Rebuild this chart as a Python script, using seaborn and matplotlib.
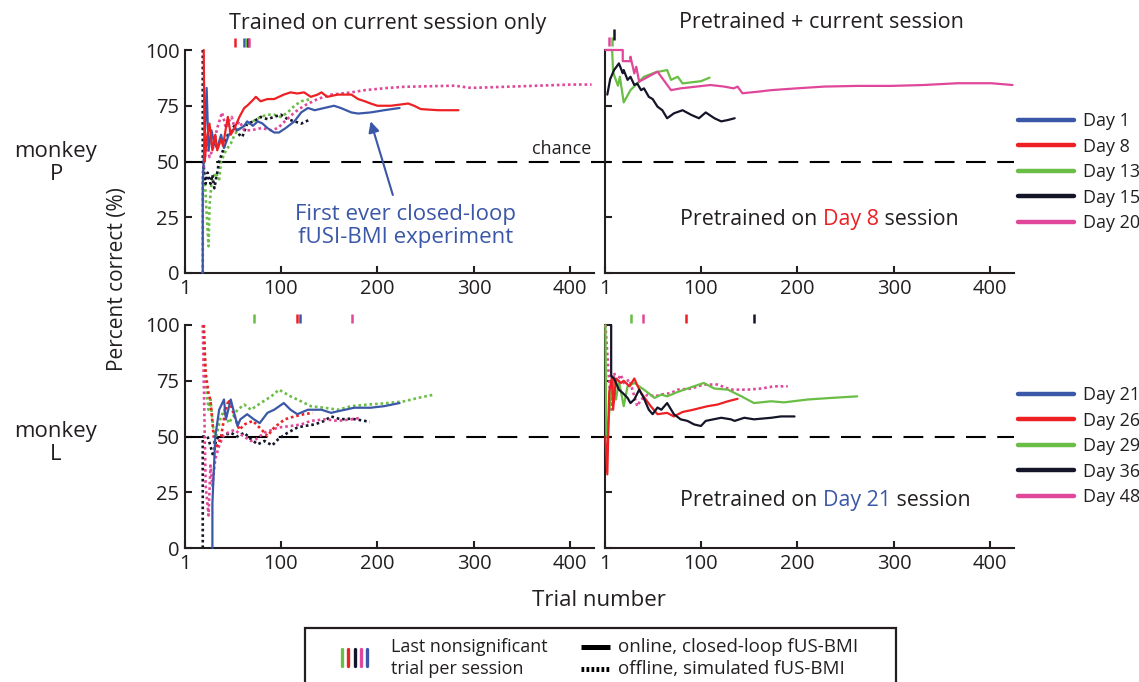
import matplotlib
matplotlib.use("Agg")
import matplotlib.pyplot as plt
import seaborn as sns
from matplotlib.lines import Line2D
from matplotlib.patches import Rectangle
from matplotlib.offsetbox import TextArea, HPacker, AnnotationBbox

sns.set_style("ticks")
plt.rcParams['font.family'] = ['Open Sans', 'DejaVu Sans']

# ---------------- colours ----------------
BLUE = '#3b57a7'
RED = '#ed2024'
GREEN = '#6abd45'
BLACK = '#15152a'
PINK = '#e0479a'
TXT = '#231f20'

XTICKS = [1, 100, 200, 300, 400]
YTICKS = [0, 25, 50, 75, 100]
CHANCE = 50

# ---------------- monkey P, trained on current session only ----------------
P_CUR_D1_X = [19, 19, 23, 25, 28, 31, 34, 38, 41, 46, 52, 55, 62, 65, 71, 76, 81, 86, 93, 98, 105, 114, 121, 128, 135, 145, 155, 162, 173, 180, 193, 207, 223]
P_CUR_D1_Y = [0, 40, 83, 55, 64, 58, 56, 62, 56, 62, 65, 64, 66, 68, 66, 68, 67, 65, 63, 63, 65, 68, 72, 74, 73, 74, 75, 74, 72, 71.5, 72, 73, 74]
P_CUR_D8_X = [20, 21, 23, 26, 29, 32, 34, 38, 40, 43, 45, 48, 52, 57, 62, 65, 72, 74, 79, 86, 93, 103, 110, 117, 124, 131, 138, 142, 148, 159, 166, 173, 180, 187, 193, 200, 214, 232, 238, 245, 263, 284]
P_CUR_D8_Y = [100, 50, 60, 67, 55, 62, 55, 60, 57, 65, 70, 62, 65, 70, 74, 75, 78, 79, 77, 78, 78, 80, 81, 80.5, 81, 79, 80, 81, 79, 80, 80, 80, 78, 77, 76, 75, 75, 76, 75, 73.5, 73, 73]
P_CUR_D13_X = [20, 25, 26, 28, 32, 36, 38, 40, 43, 48, 52, 55, 62, 71, 79, 86, 93, 100, 107, 114, 121, 131]
P_CUR_D13_Y = [50, 12, 30, 40, 45, 42, 50, 52, 55, 58, 62, 64, 66, 68, 70, 71, 71, 70, 72, 75, 77, 78]
P_CUR_D15_X = [19, 19, 22, 24, 27, 29, 31, 34, 36, 40, 42, 45, 48, 52, 57, 60, 65, 72, 79, 86, 93, 100, 107, 114, 121, 126, 131]
P_CUR_D15_Y = [100, 50, 40, 45, 40, 44, 38, 45, 50, 55, 58, 62, 64, 66, 62, 61, 67, 68, 70, 69, 70, 71, 69, 68, 67, 68, 69]
P_CUR_D20_X = [19, 19, 21, 23, 26, 29, 34, 39, 43, 46, 49, 52, 57, 62, 69, 80, 90, 97, 104, 114, 124, 138, 152, 173, 187, 211, 228, 280, 297, 332, 367, 401, 422]
P_CUR_D20_Y = [0, 45, 50, 60, 52, 55, 65, 72, 65, 68, 70, 65, 68, 64, 64, 65, 64, 65, 68, 72, 75, 78, 80, 81, 82, 83, 83.5, 84, 83, 83.5, 84, 84.5, 84.5]
P_CUR_LASTNS_X = [52, 62, 64, 65.5, 67]          # red, blue, green, black, pink

# ---------------- monkey P, pretrained + current ----------------
P_PRE_D13_X = [8, 9, 14, 16, 20, 27, 41, 53, 65, 69, 76, 81, 90, 100, 109]
P_PRE_D13_Y = [100, 90, 84, 88, 76.5, 82, 88, 90, 91, 86.6, 88, 85, 85.5, 86, 87.6]
P_PRE_D15_X = [3, 6, 10, 15, 19, 20, 24, 27, 31, 34, 38, 41, 46, 50, 55, 60, 65, 72, 81, 90, 98, 105, 114, 121, 128, 135]
P_PRE_D15_Y = [80, 87, 91, 94, 89.6, 91, 86.6, 88, 84.3, 85, 82, 82.8, 79, 78, 74.6, 73, 69.4, 71.6, 73, 70.9, 69.4, 72, 69.4, 68, 68.6, 69.4]
P_PRE_D20_X = [1, 19, 19, 27, 27, 31, 33, 36, 55, 69, 79, 110, 124, 134, 138, 143, 159, 173, 199, 228, 262, 297, 331, 366, 401, 423]
P_PRE_D20_Y = [100, 100, 95, 95, 97, 89.5, 92.5, 85.8, 90.3, 82, 82.8, 84.3, 83.6, 82.8, 83.6, 80.6, 81.3, 82, 82.8, 83.6, 83.9, 83.9, 84.3, 85.1, 85.1, 84.3]
P_PRE_LASTNS_X = [5, 8, 10]                     # pink, green, black

# ---------------- monkey L, trained on current session only ----------------
L_CUR_D21_X = [29, 29, 32, 36, 41, 43, 48, 55, 58, 65, 72, 78, 86, 93, 103, 110, 117, 128, 142, 152, 159, 176, 193, 207, 223]
L_CUR_D21_Y = [0, 20, 50, 62, 66.6, 57.7, 66.6, 54.7, 57.7, 60, 57.7, 56, 60.6, 62, 65, 62, 60, 62, 62, 60.6, 61.3, 62.9, 62.9, 63.6, 65]
L_CUR_D26_X = [20, 22, 25, 27, 31, 34, 38, 42, 46, 52, 57, 62, 71, 83, 86, 93, 104, 114, 124, 133]
L_CUR_D26_Y = [100, 78.5, 69.5, 66, 47, 45.7, 50, 60.6, 66.6, 59, 53, 55.4, 57, 51.7, 50.2, 54, 57.7, 59, 60, 60.6]
L_CUR_D29_X = [20, 22, 25, 27, 30, 33, 37, 41, 46, 55, 62, 69, 79, 90, 98, 104, 110, 117, 131, 145, 159, 173, 190, 211, 228, 242, 259]
L_CUR_D29_Y = [100, 74, 62, 66.6, 53, 50, 57.7, 62, 56, 62, 64.3, 62, 65, 68, 71, 69.5, 68, 66.6, 63.6, 62.9, 62, 63.6, 64.3, 65, 65.8, 67.3, 68.8]
L_CUR_D36_X = [19, 19, 24, 27, 30, 33, 38, 48, 55, 62, 69, 76, 83, 91, 97, 107, 117, 124, 135, 145, 152, 162, 173, 187, 192]
L_CUR_D36_Y = [0, 50, 50, 45.8, 41, 49, 50, 51.7, 50, 51.7, 48.7, 46.5, 48, 46, 48.7, 51.7, 54, 54.7, 55.4, 57, 59, 57.7, 58, 57, 56.5]
L_CUR_D48_X = [19, 22, 25, 27, 29, 32, 36, 40, 45, 52, 58, 69, 74, 83, 97, 110, 121, 131, 145, 159, 173, 183]
L_CUR_D48_Y = [100, 28, 14.6, 37, 28, 40, 45.8, 50, 51.7, 53, 51, 48, 48.7, 51.7, 54, 54.7, 55.4, 57, 57.7, 57, 57.7, 58.4]
L_CUR_LASTNS_X = [72, 117, 120, 174]             # green, red, blue, pink

# ---------------- monkey L, pretrained + current ----------------
L_PRE_D26_X = [1, 3, 5, 8, 9, 12, 17, 20, 26, 31, 34, 38, 48, 55, 65, 72, 81, 90, 107, 117, 128, 138]
L_PRE_D26_Y = [50, 33, 70, 77, 62, 76, 74, 75, 72.5, 76, 73, 69.5, 63.6, 60, 60.6, 59, 61, 61.8, 63.6, 64.3, 65.8, 66.9]
L_PRE_D29_X = [1, 2, 3, 8, 12, 15, 20, 24, 31, 36, 41, 52, 59, 65, 76, 86, 103, 114, 128, 142, 155, 173, 186, 211, 235, 262]
L_PRE_D29_Y = [100, 50, 50, 77, 66.6, 75, 63.6, 72.5, 74, 72.5, 71, 67.3, 68.8, 68, 70, 71.5, 74, 71.5, 71, 68, 65, 65.8, 65.3, 66.6, 67.3, 68]
L_PRE_D36_X = [7, 7, 10, 15, 19, 24, 27, 31, 36, 40, 46, 50, 55, 59, 65, 72, 79, 86, 93, 100, 105, 121, 131, 135, 145, 155, 173, 183, 197]
L_PRE_D36_Y = [100, 77, 76, 71, 69.5, 67.3, 65, 66.6, 71, 68, 62, 60, 63, 62, 65, 60, 57.7, 57, 55.4, 54.7, 57, 58.4, 57.7, 57, 58.4, 57.7, 58.4, 59, 59]
L_PRE_D48_X = [1, 5, 7, 10, 13, 17, 20, 26, 29, 34, 38, 45, 52, 59, 69, 76, 90, 103, 117, 131, 148, 162, 176, 190]
L_PRE_D48_Y = [100, 74, 62, 78.5, 75, 77.7, 74, 75.5, 71, 63.6, 66.6, 68.8, 68, 68.8, 69.5, 71, 71.5, 73.3, 73.3, 71, 71, 71.5, 72.5, 72.5]
L_PRE_LASTNS_X = [28, 40, 85, 155]               # green, pink, red, black

P_DAYS = ['Day 1', 'Day 8', 'Day 13', 'Day 15', 'Day 20']
L_DAYS = ['Day 21', 'Day 26', 'Day 29', 'Day 36', 'Day 48']
DAY_COLORS = [BLUE, RED, GREEN, BLACK, PINK]

W, H = 1139, 682
fig = plt.figure(figsize=(W / 100, H / 100), dpi=100)


def fx(px):
    return px / W


def fy(py):
    return 1 - py / H


ax_tl = fig.add_axes([fx(185), fy(273), fx(594) - fx(185), fy(50) - fy(273)])
ax_tr = fig.add_axes([fx(605), fy(273), fx(1014) - fx(605), fy(50) - fy(273)])
ax_bl = fig.add_axes([fx(185), fy(548), fx(594) - fx(185), fy(325) - fy(548)])
ax_br = fig.add_axes([fx(605), fy(548), fx(1014) - fx(605), fy(325) - fy(548)])

SOLID = '-'
DOT = (0, (1.0, 1.1))


def draw(ax, x, y, color, online):
    sns.lineplot(x=x, y=y, ax=ax, color=color, estimator=None, sort=False,
                 lw=1.6 if online else 1.9,
                 linestyle=SOLID if online else DOT, clip_on=False, zorder=3)


def lastns(ax, xs, colors, y0=1.015, y1=1.055):
    ax.vlines(xs, [y0] * len(xs), [y1] * len(xs), colors=colors, lw=1.8,
              transform=ax.get_xaxis_transform(), clip_on=False)


# top-left
draw(ax_tl, P_CUR_D13_X, P_CUR_D13_Y, GREEN, False)
draw(ax_tl, P_CUR_D15_X, P_CUR_D15_Y, BLACK, False)
draw(ax_tl, P_CUR_D20_X, P_CUR_D20_Y, PINK, False)
draw(ax_tl, P_CUR_D1_X, P_CUR_D1_Y, BLUE, True)
draw(ax_tl, P_CUR_D8_X, P_CUR_D8_Y, RED, True)
lastns(ax_tl, P_CUR_LASTNS_X, [RED, BLUE, GREEN, BLACK, PINK])

# top-right
draw(ax_tr, P_PRE_D13_X, P_PRE_D13_Y, GREEN, True)
draw(ax_tr, P_PRE_D20_X, P_PRE_D20_Y, PINK, True)
draw(ax_tr, P_PRE_D15_X, P_PRE_D15_Y, BLACK, True)
lastns(ax_tr, P_PRE_LASTNS_X[:2], [PINK, GREEN], 1.02, 1.06)
lastns(ax_tr, P_PRE_LASTNS_X[2:], [BLACK], 1.045, 1.095)

# bottom-left
draw(ax_bl, L_CUR_D29_X, L_CUR_D29_Y, GREEN, False)
draw(ax_bl, L_CUR_D36_X, L_CUR_D36_Y, BLACK, False)
draw(ax_bl, L_CUR_D48_X, L_CUR_D48_Y, PINK, False)
draw(ax_bl, L_CUR_D26_X, L_CUR_D26_Y, RED, False)
draw(ax_bl, L_CUR_D21_X, L_CUR_D21_Y, BLUE, True)
lastns(ax_bl, L_CUR_LASTNS_X, [GREEN, RED, BLUE, PINK], 1.01, 1.05)

# bottom-right
draw(ax_br, L_PRE_D48_X, L_PRE_D48_Y, PINK, False)
draw(ax_br, L_PRE_D29_X, L_PRE_D29_Y, GREEN, True)
draw(ax_br, L_PRE_D26_X, L_PRE_D26_Y, RED, True)
draw(ax_br, L_PRE_D36_X, L_PRE_D36_Y, BLACK, True)
lastns(ax_br, L_PRE_LASTNS_X, [GREEN, PINK, RED, BLACK], 1.01, 1.05)

DASH = (0, (9.5, 5.5))
for ax, left in [(ax_tl, True), (ax_tr, False), (ax_bl, True), (ax_br, False)]:
    ax.set_xlim(0.6, 424.5)
    ax.set_ylim(0, 100)
    ax.set_xticks(XTICKS)
    ax.set_yticks(YTICKS)
    ax.set_xlabel('')
    ax.set_ylabel('')
    for s in ['top', 'right']:
        ax.spines[s].set_visible(False)
    for s in ['left', 'bottom']:
        ax.spines[s].set_linewidth(1.5)
        ax.spines[s].set_color(TXT)
    ax.tick_params(direction='in', length=5, width=1.5, color=TXT,
                   labelsize=14.5, labelcolor=TXT, pad=4)
    if not left:
        ax.tick_params(axis='y', labelleft=False)
    x0 = 0 if left else -0.035
    ax.plot([x0, 1], [CHANCE, CHANCE], transform=ax.get_yaxis_transform(),
            color='black', lw=1.5, linestyle=DASH, clip_on=False, zorder=2)

# annotations top-left
ax_tl.text(422, 51.5, 'chance', ha='right', va='bottom', fontsize=13, color=TXT)
ax_tl.text(229, 21, 'First ever closed-loop\nfUSI-BMI experiment', ha='center',
           va='center', fontsize=16, color=BLUE, linespacing=1.1)
ax_tl.annotate('', xy=(193, 68), xytext=(216, 35),
               arrowprops=dict(arrowstyle='-|>', color=BLUE, lw=1.5,
                               mutation_scale=16, shrinkA=0, shrinkB=0))


def colored_caption(ax, x, y, day, color):
    fs = 15.4
    parts = [TextArea('Pretrained on ', textprops=dict(color=TXT, fontsize=fs)),
             TextArea(day, textprops=dict(color=color, fontsize=fs)),
             TextArea(' session', textprops=dict(color=TXT, fontsize=fs))]
    box = HPacker(children=parts, align='baseline', pad=0, sep=0)
    ab = AnnotationBbox(box, (x, y), xycoords='data', frameon=False,
                        box_alignment=(0.5, 0.5))
    ax.add_artist(ab)


colored_caption(ax_tr, 223, 24, 'Day 8', RED)
colored_caption(ax_br, 229, 21.5, 'Day 21', BLUE)

# titles
fig.text(fx(388), fy(23), 'Trained on current session only', ha='center',
         va='center', fontsize=15.5, color=TXT)
fig.text(fx(821), fy(23), 'Pretrained + current session', ha='center',
         va='center', fontsize=15.5, color=TXT)

# row labels and axis labels
fig.text(fx(56), fy(163), 'monkey\nP', ha='center', va='center', fontsize=16,
         color=TXT, linespacing=1.1)
fig.text(fx(56), fy(443), 'monkey\nL', ha='center', va='center', fontsize=16,
         color=TXT, linespacing=1.1)
fig.text(fx(118), fy(279), 'Percent correct (%)', rotation=90, ha='center',
         va='center', fontsize=15, color=TXT)
fig.text(fx(599), fy(600), 'Trial number', ha='center', va='center',
         fontsize=16, color=TXT)

# day legends
for ax, days, top in [(ax_tr, P_DAYS, 112), (ax_br, L_DAYS, 386)]:
    handles = [Line2D([], [], color=c, lw=3.2) for c in DAY_COLORS]
    fig.legend(handles, days, loc='upper left',
               bbox_to_anchor=(fx(1018), fy(top)), bbox_transform=fig.transFigure,
               frameon=False, fontsize=13, handlelength=3.1, handletextpad=0.5,
               labelspacing=0.42, borderpad=0, borderaxespad=0,
               labelcolor=TXT)

# bottom key box
fig.add_artist(Rectangle((fx(305), fy(700)), fx(896) - fx(305), fy(628) - fy(700),
                         transform=fig.transFigure, fill=False, lw=1.6,
                         edgecolor=TXT, clip_on=False))
for i, c in enumerate([GREEN, RED, BLACK, PINK, BLUE]):
    xx = fx(342 + 6.3 * i)
    fig.add_artist(Line2D([xx, xx], [fy(666), fy(649)], color=c, lw=2.4,
                          transform=fig.transFigure))
fig.text(fx(391), fy(647), 'Last nonsignificant', ha='left', va='center',
         fontsize=13, color=TXT)
fig.text(fx(391), fy(669), 'trial per session', ha='left', va='center',
         fontsize=13, color=TXT)
fig.add_artist(Line2D([fx(581), fx(610)], [fy(647), fy(647)], color='black',
                      lw=3.6, transform=fig.transFigure, solid_capstyle='butt'))
fig.add_artist(Line2D([fx(581), fx(610)], [fy(669), fy(669)], color='black',
                      lw=3.6, linestyle=(0, (0.55, 0.45)),
                      transform=fig.transFigure, dash_capstyle='butt'))
fig.text(fx(618), fy(647), 'online, closed-loop fUS-BMI', ha='left',
         va='center', fontsize=13.5, color=TXT)
fig.text(fx(618), fy(669), 'offline, simulated fUS-BMI', ha='left',
         va='center', fontsize=13.5, color=TXT)

fig.savefig('out.png', dpi=100)
